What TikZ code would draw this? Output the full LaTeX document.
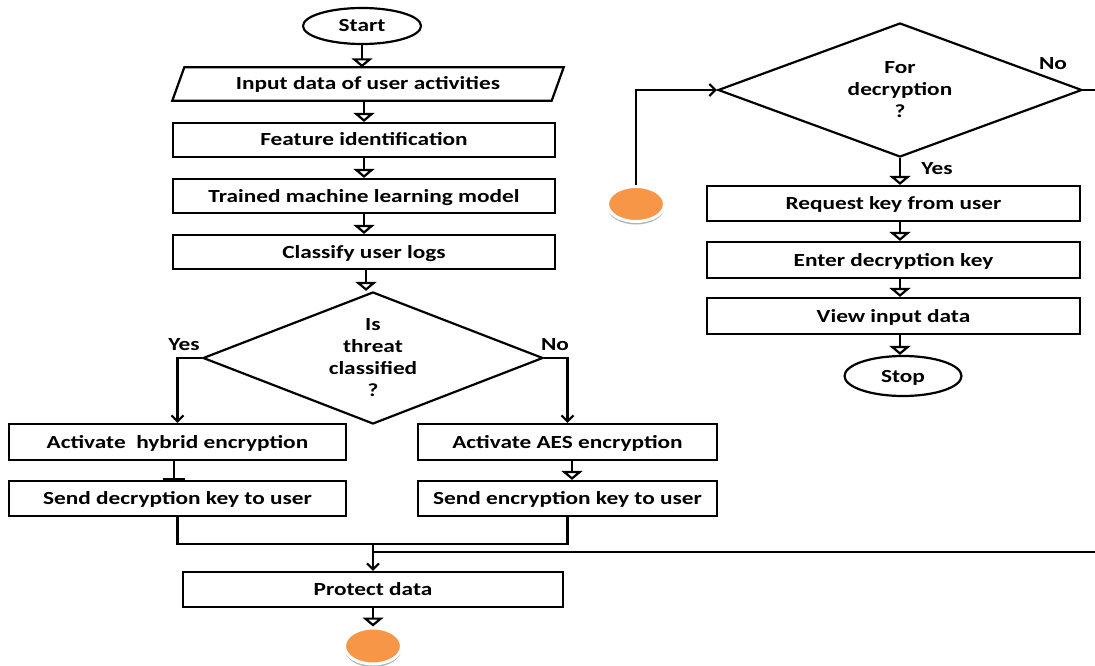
\documentclass[tikz,border=0pt]{standalone}
\usepackage{fontspec}
\setmainfont{Carlito}[FakeStretch=1.26]
\usetikzlibrary{shapes.geometric,arrows.meta,shadows,calc}
\definecolor{dotorange}{HTML}{F79646}
\begin{document}
\begin{tikzpicture}[x=1pt,y=-1pt,
  every node/.style={font=\fontsize{18.5}{22}\selectfont\bfseries},
  txt/.style={text height=15pt, text depth=3pt},
  proc/.style={draw, rectangle, line width=2.2pt, inner sep=0pt, txt},
  term/.style={draw, ellipse, line width=2.2pt, inner sep=0pt, txt},
  dec/.style={draw, diamond, line width=2.2pt, inner sep=0pt, align=center},
  dot/.style={ellipse, fill=dotorange, draw=white, line width=3pt, inner sep=0pt,
    minimum width=57pt, minimum height=36pt,
    drop shadow={shadow xshift=0pt, shadow yshift=-3pt, opacity=0.3, fill=black}},
  flow/.style={line width=2.2pt},
  tri/.style={flow, -{Triangle[open, fill=white, width=21pt, length=9pt]}},
  barb/.style={flow, -{Straight Barb[length=6pt, width=12pt]}},
  tee/.style={flow, -{Bar[width=22pt]}},
  lbl/.style={inner sep=0pt}]
\useasboundingbox (0,0) rectangle (1095,666);
\begin{scope}
\clip (0,0) rectangle (1095,666);
% left column
\node[term, minimum width=118pt, minimum height=36pt] (start) at (362,26) {Start};
\node[inner sep=0pt, txt, minimum width=379pt, minimum height=33pt] (input) at (368,84) {Input data of user activities};
\draw[line width=2.2pt] ([xshift=6pt]input.north west) -- ([xshift=6pt]input.north east)
  -- ([xshift=-6pt]input.south east) -- ([xshift=-6pt]input.south west) -- cycle;
\node[proc, minimum width=382pt, minimum height=34pt] (feat) at (364,140) {Feature identification};
\node[proc, minimum width=382pt, minimum height=34pt] (train) at (364,196) {Trained machine learning model};
\node[proc, minimum width=382pt, minimum height=34pt] (cls) at (364,252) {Classify user logs};
\node[dec, minimum width=340pt, minimum height=132pt, aspect=2.58] (d1) at (373,358) {Is\\threat\\classified\\?};
\node[proc, minimum width=337pt, minimum height=36pt] (hyb) at (177.5,442) {Activate\ \ hybrid encryption};
\node[proc, minimum width=337pt, minimum height=35pt] (sdk) at (177.5,498.5) {Send decryption key to user};
\node[proc, minimum width=299pt, minimum height=36pt] (aes) at (567.5,442) {Activate AES encryption};
\node[proc, minimum width=299pt, minimum height=35pt] (sek) at (567.5,498.5) {Send encryption key to user};
\node[proc, minimum width=380pt, minimum height=35pt] (prot) at (373,589.5) {Protect data};
\node[dot] (end1) at (373,646) {};
% right column
\node[dec, minimum width=364pt, minimum height=134pt, aspect=2.7] (d2) at (900,90) {For\\decryption\\?};
\node[proc, minimum width=373pt, minimum height=35pt] (req) at (893.5,203.5) {Request key from user};
\node[proc, minimum width=373pt, minimum height=36pt] (ent) at (893.5,260) {Enter decryption key};
\node[proc, minimum width=373pt, minimum height=36pt] (view) at (893.5,316) {View input data};
\node[term, minimum width=117pt, minimum height=40pt] (stop) at (903,376) {Stop};
\node[dot, minimum height=35pt] (dot2) at (636,204) {};
% labels
\node[lbl] (lyes1) at (184,345) {Yes};
\node[lbl] (lno1) at (555,345) {No};
\node[lbl] (lno2) at (1053,64) {No};
\node[lbl] (lyes2) at (937,169) {Yes};
% connectors left
\draw[tri] (start.south) -- (start.south |- input.north);
\draw[tri] (input.south -| feat.north) -- (feat.north);
\draw[tri] (feat.south) -- (train.north);
\draw[tri] (train.south) -- (cls.north);
\draw[tri] ([xshift=2pt]cls.south) -- ([xshift=2pt]cls.south |- d1.north);
\draw[barb] (d1.west) -| (hyb.north);
\draw[barb] (d1.east) -| (aes.north);
\draw[tee] ([xshift=-3.5pt]hyb.south) -- ([xshift=-3.5pt]sdk.north);
\draw[tri] ([xshift=4.5pt]aes.south) -- ([xshift=4.5pt]sek.north);
\coordinate (mj) at (373,544);
\coordinate (jn) at (373,552);
\draw[flow] (sdk.south) -- (sdk.south |- mj) -- (sek.south |- mj) -- (sek.south);
\draw[barb] (mj) -- (prot.north);
\draw[tri] (prot.south) -- (end1.north);
% connectors right
\draw[flow] (d2.east) -- ++(40,0) |- (jn);
\draw[barb] (dot2.north) |- (d2.west);
\draw[tri] (d2.south) -- (d2.south |- req.north);
\draw[tri] (req.south -| d2.south) -- (ent.north -| d2.south);
\draw[tri] (ent.south -| d2.south) -- (view.north -| d2.south);
\draw[tri] (view.south -| d2.south) -- (stop.north -| d2.south);
\end{scope}
\end{tikzpicture}
\end{document}
